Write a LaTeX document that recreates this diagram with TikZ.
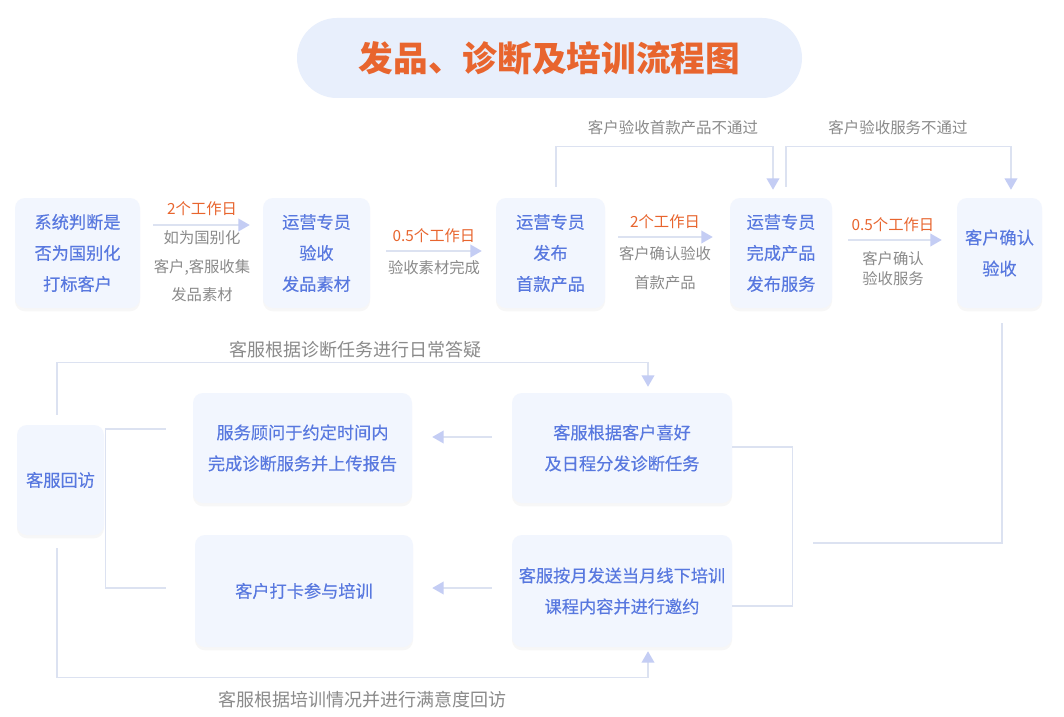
\documentclass[tikz,border=0pt]{standalone}
\usepackage{fontspec}
\setmainfont{Noto Sans CJK SC}
\newfontfamily\cardfont[FakeBold=0.3]{Noto Sans CJK SC}
\usepackage{xcolor}
\usepackage{tikz}
\usetikzlibrary{arrows.meta,shadows}
\definecolor{boxfill}{HTML}{F2F6FE}
\definecolor{boxtext}{HTML}{5878DF}
\definecolor{notec}{HTML}{8A8A8A}
\definecolor{daysc}{HTML}{E8652E}
\definecolor{linec}{HTML}{DCE2F1}
\definecolor{headc}{HTML}{C4CDF4}
\definecolor{pillc}{HTML}{E8EFFC}
\tikzstyle{card} = [rounded corners=7.5pt,fill=boxfill,text=boxtext,align=center,inner sep=0pt,font=\cardfont\fontsize{12.9}{23.25}\selectfont,drop shadow={opacity=0.06,shadow xshift=0pt,shadow yshift=-2.5pt}]
\tikzstyle{titlepill} = [rounded corners=30pt,fill=pillc,text=daysc,minimum width=378.75pt,minimum height=60pt,font=\fontsize{26}{30}\selectfont\bfseries]
\tikzstyle{flow} = [draw=linec,line width=1.1pt,-{Triangle[length=8.5pt,width=9.5pt,color=headc]}]
\tikzstyle{link} = [draw=linec,line width=1.1pt]
\tikzstyle{days} = [text=daysc,font=\fontsize{11.5}{14}\selectfont]
\tikzstyle{note} = [text=notec,align=center,font=\fontsize{11.5}{21.4}\selectfont]
\tikzstyle{backnote} = [text=notec,font=\fontsize{11.6}{14}\selectfont]
\tikzstyle{bignote} = [text=notec,font=\fontsize{13.5}{16}\selectfont]

\begin{document}
\begin{tikzpicture}[x=0.75pt,y=-0.75pt]
	\fill[white] (0,0) rectangle (1064,717);
	\useasboundingbox (0,0) rectangle (1064,717);

	% Title:
	\node[titlepill] (title) at (549.5,58) {发品、诊断及培训流程图};

	% Top row:
	% Release steps, one card each
	\node[card,minimum width=93.75pt,minimum height=82.5pt] (judge)   at (77.5,253)  {系统判断是\\否为国别化\\打标客户};
	\node[card,minimum width=80.25pt,minimum height=82.5pt] (check)   at (316.5,253) {运营专员\\验收\\发品素材};
	\node[card,minimum width=81.75pt,minimum height=82.5pt] (first)   at (550.5,253) {运营专员\\发布\\首款产品};
	\node[card,minimum width=76.5pt,minimum height=82.5pt]  (publish) at (781,253)   {运营专员\\完成产品\\发布服务};
	\node[card,minimum width=63.75pt,minimum height=82.5pt] (confirm) at (999.5,253) {客户确认\\验收};

	\draw[flow] ([xshift=9.75pt,yshift=21pt]judge.east)    -- ([xshift=-9.75pt,yshift=21pt]check.west);
	\draw[flow] ([xshift=12pt,yshift=1.5pt]check.east)     -- ([xshift=-10.5pt,yshift=1.5pt]first.west);
	\draw[flow] ([xshift=9.75pt,yshift=12pt]first.east)    -- ([xshift=-12.75pt,yshift=12pt]publish.west);
	\draw[flow] ([xshift=12pt,yshift=9.75pt]publish.east)  -- ([xshift=-11.25pt,yshift=9.75pt]confirm.west);

	% Labels of the steps:
	\node[days] (days1) at (202,209) {2个工作日};
	\node[note] (note1) at (202,266.5) {如为国别化\\客户,客服收集\\发品素材};
	\node[days] (days2) at (434,236) {0.5个工作日};
	\node[note] (note2) at (434,268) {验收素材完成};
	\node[days] (days3) at (665,222) {2个工作日};
	\node[note] (note3) at (665,268) {客户确认验收\\首款产品};
	\node[days] (days4) at (893,225) {0.5个工作日};
	\node[note,font=\fontsize{11.5}{15}\selectfont] (note4) at (893,269) {客户确认\\验收服务};

	% Loops back when the customer says no:
	\draw[flow] ([xshift=4.1pt,yshift=8.25pt]first.north) -- ++(0,-40) -| ([xshift=-6pt,yshift=6pt]publish.north);
	\draw[flow] ([xshift=3.75pt,yshift=8.25pt]publish.north) -- ++(0,-40) -| ([xshift=8.6pt,yshift=6pt]confirm.north);
	\node[backnote] (fail1) at (673,128) {客户验收首款产品不通过};
	\node[backnote] (fail2) at (898,128) {客户验收服务不通过};

	% Lower part:
	\node[card,minimum width=65.25pt,minimum height=82.5pt]  (visit)   at (60.5,480) {客服回访};
	\node[card,minimum width=164.25pt,minimum height=82.5pt] (advisor) at (302.5,448) {服务顾问于约定时间内\\完成诊断服务并上传报告};
	\node[card,minimum width=165pt,minimum height=82.5pt]    (assign)  at (622,448) {客服根据客户喜好\\及日程分发诊断任务};
	\node[card,minimum width=163.5pt,minimum height=84pt]    (attend)  at (304,591) {客户打卡参与培训};
	\node[card,minimum width=165pt,minimum height=84pt]      (invite)  at (622,591) {客服按月发送当月线下培训\\课程内容并进行邀约};

	\draw[flow] ([xshift=-15pt,yshift=8.25pt]assign.west) -- ([xshift=15pt,yshift=8.25pt]advisor.east);
	\draw[flow] ([xshift=-15pt,yshift=2.25pt]invite.west) -- ([xshift=14.25pt,yshift=2.25pt]attend.east);

	% Brackets:
	\draw[link] ([xshift=-20.25pt,yshift=14.25pt]advisor.west) -| ([xshift=0.75pt]visit.east) |- ([xshift=-21.75pt,yshift=2.25pt]attend.west);
	\draw[link] ([yshift=0.75pt]assign.east) -- ++(60,0) |- ([yshift=-11.25pt]invite.east);
	\coordinate (joint) at (813,543);
	\draw[link] ([xshift=1.9pt,yshift=-11.25pt]confirm.south) |- (joint);

	% Follow-up loops:
	\draw[flow] ([xshift=-2.6pt,yshift=7.5pt]visit.north) -- ++(0,-52) -| ([xshift=19.5pt,yshift=4.5pt]assign.north);
	\node[bignote] (daily) at (355,350) {客服根据诊断任务进行日常答疑};
	\draw[flow] ([xshift=-2.6pt,yshift=-9.75pt]visit.south) -- ++(0,129) -| ([xshift=19.5pt,yshift=-3pt]invite.south);
	\node[bignote] (survey) at (362,700) {客服根据培训情况并进行满意度回访};
\end{tikzpicture}
\end{document}
